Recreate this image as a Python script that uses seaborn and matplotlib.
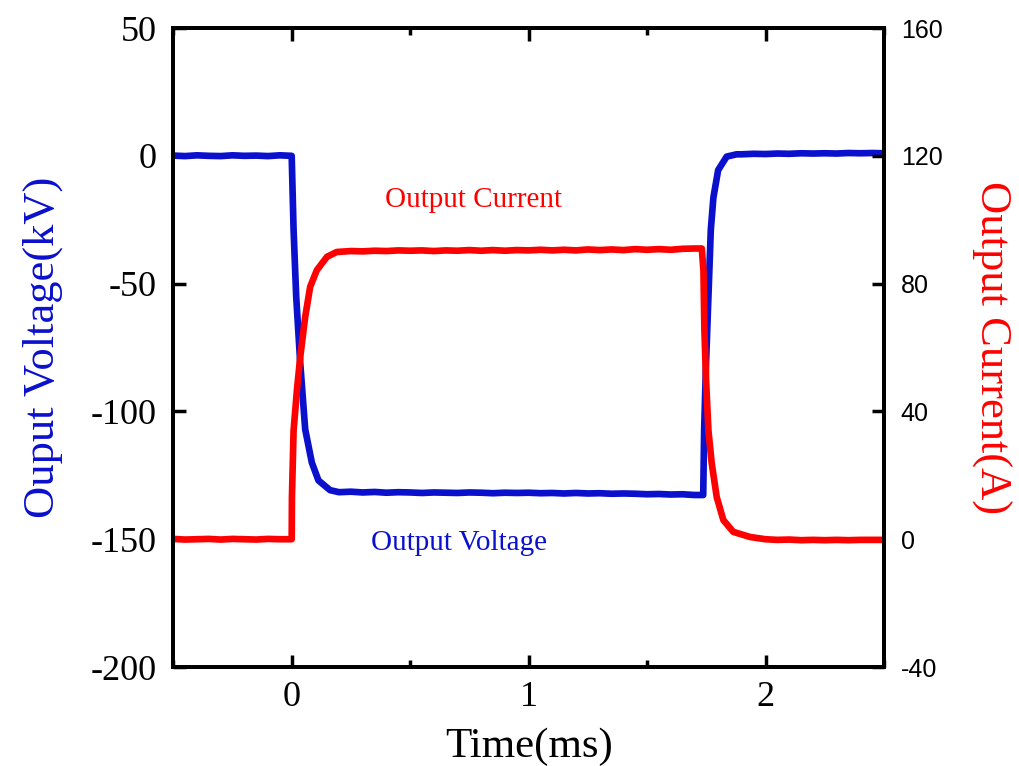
import numpy as np
import pandas as pd
import matplotlib
matplotlib.use("Agg")
import matplotlib.pyplot as plt
import seaborn as sns
from matplotlib.ticker import MultipleLocator

# values
volt_time = [-0.5, -0.45, -0.4, -0.35, -0.3, -0.25, -0.2, -0.15, -0.1, -0.05, 0.0,
             0.008, 0.019, 0.036, 0.057, 0.085, 0.113, 0.162, 0.2, 0.25, 0.3, 0.35,
             0.4, 0.45, 0.5, 0.55, 0.6, 0.65, 0.7, 0.75, 0.8, 0.85, 0.9, 0.95, 1.0,
             1.05, 1.1, 1.15, 1.2, 1.25, 1.3, 1.35, 1.4, 1.45, 1.5, 1.55, 1.6, 1.65,
             1.7, 1.737, 1.741, 1.749, 1.759, 1.769, 1.78, 1.8, 1.836, 1.878, 1.9,
             1.95, 2.0, 2.05, 2.1, 2.15, 2.2, 2.25, 2.3, 2.35, 2.4, 2.45, 2.5]
volt_kv = [0.1, -0.1, 0.2, 0.0, -0.1, 0.2, 0.0, 0.1, -0.1, 0.2, 0.0,
           -29.0, -55.0, -81.0, -107.0, -120.0, -127.0, -130.8, -131.6, -131.4, -131.7, -131.5,
           -131.8, -131.6, -131.7, -131.9, -131.7, -131.8, -131.9, -131.7, -131.8, -132.0, -131.8,
           -131.9, -131.8, -132.0, -131.9, -132.1, -131.9, -132.1, -132.0, -132.2, -132.1, -132.2,
           -132.4, -132.3, -132.5, -132.4, -132.7, -132.7, -107.0, -81.0, -55.0, -29.0, -16.3,
           -5.6, -0.3, 0.6, 0.6, 0.8, 0.7, 0.9, 0.8, 1.0, 0.9, 1.0, 0.9, 1.1, 1.0, 1.1, 1.0]

curr_time = [-0.5, -0.45, -0.4, -0.35, -0.3, -0.25, -0.2, -0.15, -0.1, -0.05, 0.0,
             0.001, 0.008, 0.022, 0.036, 0.057, 0.078, 0.106, 0.149, 0.19, 0.25, 0.3,
             0.35, 0.4, 0.45, 0.5, 0.55, 0.6, 0.65, 0.7, 0.75, 0.8, 0.85, 0.9, 0.95,
             1.0, 1.05, 1.1, 1.15, 1.2, 1.25, 1.3, 1.35, 1.4, 1.45, 1.5, 1.55, 1.6,
             1.65, 1.7, 1.731, 1.738, 1.742, 1.749, 1.759, 1.773, 1.794, 1.822, 1.864,
             1.935, 2.0, 2.05, 2.1, 2.15, 2.2, 2.25, 2.3, 2.35, 2.4, 2.45, 2.5]
curr_a = [0.1, -0.1, 0.0, 0.1, -0.1, 0.1, 0.0, -0.1, 0.1, 0.0, 0.0,
          13.0, 34.0, 46.6, 57.0, 69.6, 79.0, 84.2, 88.4, 89.9, 90.2, 90.1,
          90.3, 90.2, 90.4, 90.3, 90.4, 90.2, 90.4, 90.3, 90.5, 90.3, 90.5, 90.3, 90.5,
          90.4, 90.6, 90.4, 90.6, 90.4, 90.7, 90.5, 90.7, 90.5, 90.8, 90.6, 90.8, 90.6,
          90.9, 91.0, 91.0, 84.0, 65.4, 49.8, 34.0, 23.7, 13.2, 6.0, 2.3,
          0.7, 0.0, -0.2, -0.1, -0.3, -0.2, -0.3, -0.2, -0.3, -0.2, -0.2, -0.2]

volt_df = pd.DataFrame({"time": volt_time, "value": volt_kv})
curr_df = pd.DataFrame({"time": curr_time, "value": curr_a})

BLUE = "#0a10cc"
RED = "#ff0000"

sns.set_style("ticks")
plt.rcParams["font.family"] = ["Liberation Serif", "DejaVu Serif"]
plt.rcParams["axes.unicode_minus"] = False
plt.rcParams["text.color"] = "black"
plt.rcParams["xtick.color"] = "black"
plt.rcParams["ytick.color"] = "black"
plt.rcParams["axes.labelcolor"] = "black"

fig = plt.figure(figsize=(10.19, 7.66), dpi=100)
ax = fig.add_axes([0.170, 0.1292, 0.6975, 0.8342])
ax2 = ax.twinx()

sns.lineplot(data=volt_df, x="time", y="value", ax=ax, color=BLUE, lw=4.8, sort=False)
sns.lineplot(data=curr_df, x="time", y="value", ax=ax2, color=RED, lw=4.8, sort=False)

ax.set_xlim(-0.5, 2.5)
ax.set_ylim(-200, 50)
ax2.set_ylim(-40, 160)
ax.xaxis.set_major_locator(MultipleLocator(1))
ax.xaxis.set_minor_locator(MultipleLocator(0.5))
ax.yaxis.set_major_locator(MultipleLocator(50))
ax2.yaxis.set_major_locator(MultipleLocator(40))

for a in (ax, ax2):
    for sp in a.spines.values():
        sp.set_linewidth(2.8)
        sp.set_color("black")
        sp.set_visible(True)

ax.tick_params(axis="x", which="major", direction="in", length=9, width=2.5,
               top=True, labelsize=26, pad=10, colors="black")
ax.tick_params(axis="x", which="minor", direction="in", length=5, width=2.5, top=True,
               colors="black")
ax.tick_params(axis="y", which="major", direction="in", length=9, width=2.5,
               right=False, labelsize=26, pad=12, colors="black")
ax2.tick_params(axis="y", which="major", direction="in", length=9, width=2.5,
                labelsize=18, pad=12, colors="black")
for lab in ax2.get_yticklabels():
    lab.set_family(["Liberation Sans", "DejaVu Sans"])

ax.set_xlabel("Time(ms)", fontsize=31, labelpad=10, color="black")
ax.set_ylabel("Ouput Voltage(kV)", fontsize=32, color=BLUE, labelpad=20)
ax2.set_ylabel("Output Current(A)", fontsize=32, color=RED, rotation=-90, labelpad=50)

ax.text(0.766, -17.3, "Output Current", color=RED, fontsize=21, ha="center", va="center")
ax.text(0.707, -151.5, "Output Voltage", color=BLUE, fontsize=21, ha="center", va="center")

fig.savefig("out.png", dpi=100)
